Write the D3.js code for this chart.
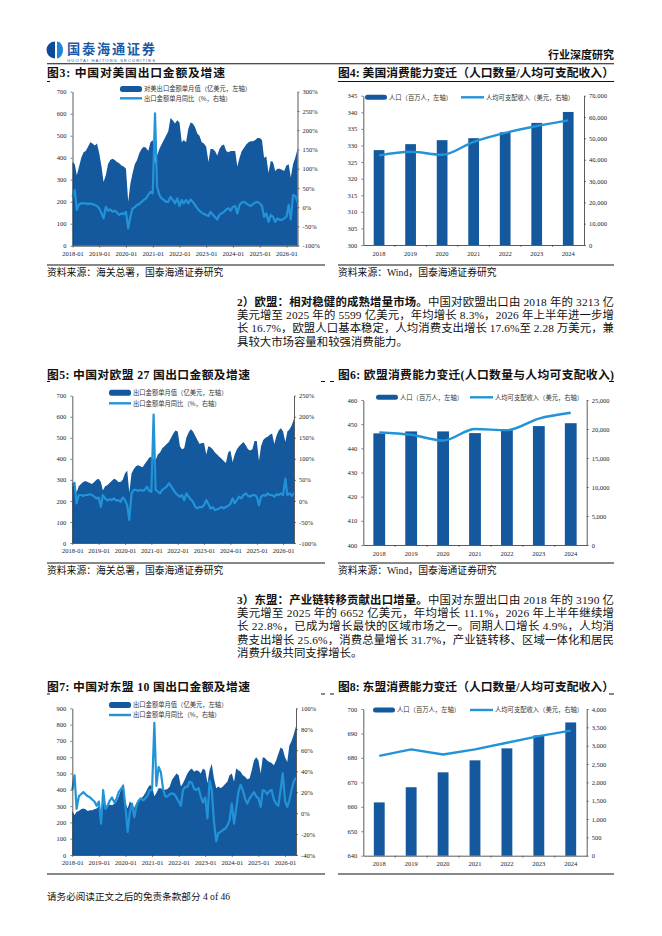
<!DOCTYPE html>
<head>
  <meta charset="utf-8">
  <title>行业深度研究 p4</title>
  <script src="https://d3js.org/d3.v7.min.js"></script>
  <style>
    body { margin: 0; background: #fff; }
    svg { display: block; background: #fff; }
  </style>
</head>

<body>
  <script>
    // ---- categories & tick labels ----
    var months = d3.utcMonths(new Date(Date.UTC(2018, 0, 1)), new Date(Date.UTC(2026, 6, 1)));   // 2018-01 .. 2026-06
    var monthTickLabels = ["2018-01", "2019-01", "2020-01", "2021-01", "2022-01", "2023-01", "2024-01", "2025-01", "2026-01"];
    var years = ["2018", "2019", "2020", "2021", "2022", "2023", "2024"];

    // ---- 图3 中国对美国 (亿美元 / %) ----
    var usMonthlyExport = [
      380,370,320,360,400,425,430,450,470,465,455,465,
      420,360,290,320,370,390,395,390,380,375,365,360,
      350,200,280,330,370,390,420,440,450,445,430,470,
      480,370,410,440,460,480,500,520,580,570,555,570,
      560,470,480,470,530,560,555,540,510,500,470,465,
      450,380,440,440,430,410,440,455,460,430,425,430,
      430,430,360,400,430,445,460,470,475,475,480,490,
      490,480,400,405,330,385,380,340,350,350,345,340,
      365,370,310,370,400,440];
    var usMonthlyYoY = [
      27,45,-7,8,10,10,10,8,10,8,6,3,
      -3,-16,-29,1,-9,-6,-12,-9,-14,-20,-16,-18,
      -12,-55,-25,-3,0,6,8,14,19,23,32,40,
      36,244,53,32,23,19,14,14,27,19,10,23,
      3,19,10,19,10,20,14,6,-3,-9,-14,-18,
      -20,-23,-12,-20,-25,-32,-20,-16,-12,-6,-3,-9,
      1,3,-16,6,12,14,10,6,3,8,12,14,
      10,3,-25,-16,-38,-20,-25,-38,-29,-33,-33,-29,
      -25,6,-32,32,29,14];

    // ---- 图5 中国对欧盟27国 ----
    var euMonthlyExport = [
      270,285,240,270,280,290,295,290,285,280,290,300,
      305,290,250,270,275,285,295,305,300,290,290,300,
      330,345,240,330,350,365,370,365,360,375,390,405,
      410,400,395,420,430,450,460,470,480,500,520,535,
      530,460,445,450,500,525,540,530,510,490,470,475,
      475,420,460,455,445,430,420,410,400,390,380,430,
      440,385,420,445,460,470,480,465,445,440,445,485,
      485,390,460,490,500,505,515,520,470,510,535,545,
      530,480,530,540,560,590];
    var euMonthlyYoY = [
      38,43,-6,14,14,12,14,14,16,14,10,6,
      8,-14,14,6,1,4,2,6,1,2,-2,8,
      2,-10,-45,18,26,26,24,26,24,26,34,24,
      22,205,26,22,18,26,30,34,42,35,27,19,
      14,10,14,2,18,10,4,-2,-14,-18,-14,-15,
      -10,2,-7,-18,-15,-22,-20,-18,-14,-18,-14,-12,
      -7,6,-6,2,10,6,14,18,12,10,14,14,
      10,-10,10,14,12,18,14,14,10,16,14,18,
      14,53,14,18,12,19];

    // ---- 图7 中国对东盟10国 ----
    var aseanMonthlyExport = [
      270,245,265,270,280,285,280,270,275,275,280,285,
      300,270,320,305,300,310,305,315,330,360,400,440,
      320,285,330,310,290,320,340,345,360,380,410,430,
      420,360,380,410,410,400,400,405,420,460,480,500,
      490,420,440,470,500,520,530,510,520,515,500,530,
      520,440,520,560,470,410,420,410,420,435,450,490,
      500,450,530,520,510,490,480,465,470,520,580,600,
      580,500,600,595,580,570,565,550,580,620,660,650,
      600,570,670,700,740,790];
    var aseanMonthlyYoY = [
      22,36,4,16,18,20,18,16,15,13,11,7,
      11,-10,22,4,7,12,15,10,14,20,23,26,
      6,-18,1,9,-4,7,12,14,12,14,17,22,
      22,86,26,44,39,23,16,16,18,19,18,15,
      11,7,22,25,25,30,29,23,22,24,16,10,
      15,-5,31,22,-8,-27,-19,-18,-16,-15,-12,-7,
      9,-10,4,20,27,22,14,9,14,17,20,16,
      14,6,22,21,18,21,22,13,9,7,22,38,
      12,6,12,22,30,34];

    // ---- 图4/6/8 人口(百万人) & 人均可支配收入(美元) ----
    var usPopulation = [328.6, 330.4, 331.6, 332.2, 334.0, 336.8, 340.1];
    var usIncome = [42000, 43700, 42300, 48400, 52600, 55800, 58400];
    var euPopulation = [446.2, 447.0, 447.0, 446.3, 447.8, 449.2, 450.4];
    var euIncome = [19400, 19000, 18000, 20000, 19800, 21800, 22800];
    var aseanPopulation = [661.8, 668.0, 674.1, 679.0, 683.9, 689.2, 694.5];
    var aseanIncome = [2720, 2900, 2760, 2900, 3080, 3260, 3410];

    // ---- axis ticks ----
    var ticks700 = [0, 100, 200, 300, 400, 500, 600, 700];
    var ticks900 = [0, 100, 200, 300, 400, 500, 600, 700, 800, 900];
    var usYoYTicks = [-100, -50, 0, 50, 100, 150, 200, 250, 300];
    var euYoYTicks = [-100, -50, 0, 50, 100, 150, 200, 250];
    var aseanYoYTicks = [-40, -20, 0, 20, 40, 60, 80, 100];
    var usPopTicks = [300, 305, 310, 315, 320, 325, 330, 335, 340, 345];
    var usIncomeTicks = [0, 10000, 20000, 30000, 40000, 50000, 60000, 70000];
    var euPopTicks = [400, 410, 420, 430, 440, 450, 460];
    var euIncomeTicks = [0, 5000, 10000, 15000, 20000, 25000];
    var aseanPopTicks = [640, 650, 660, 670, 680, 690, 700];
    var aseanIncomeTicks = [0, 500, 1000, 1500, 2000, 2500, 3000, 3500, 4000];

    var DARK = "#14589e", LIGHT = "#2393d8", INK = "#111";
    var SERIF = "'Liberation Serif', 'Noto Sans CJK SC', serif";
    var CJK = "'Noto Sans CJK SC', sans-serif";

    var svg = d3.select("body").append("svg")
      .attr("width", 662)
      .attr("height", 936);

    function styleAxis(g) {
      g.attr("font-family", null).attr("font-size", null);
      g.select(".domain").attr("stroke", "#333").attr("stroke-width", 0.8);
      g.selectAll(".tick line").attr("stroke", "#333").attr("stroke-width", 0.6);
      g.selectAll(".tick text")
        .attr("font-family", SERIF)
        .attr("font-size", 6.5)
        .attr("fill", "#222");
    }

    function hline(x1, x2, y, w) {
      svg.append("line")
        .attr("x1", x1).attr("x2", x2).attr("y1", y).attr("y2", y)
        .attr("stroke", "#111").attr("stroke-width", w || 1);
    }

    function label(x, y, txt, size, opts) {
      opts = opts || {};
      return svg.append("text")
        .attr("x", x).attr("y", y)
        .attr("font-family", opts.family || SERIF)
        .attr("font-size", size)
        .attr("font-weight", opts.bold ? "bold" : "normal")
        .attr("text-anchor", opts.anchor || "start")
        .attr("fill", opts.fill || INK)
        .text(txt);
    }

    function title(x, y, txt, width) {
      label(x, y, txt, 11.8, {bold: true})
        .attr("textLength", width)
        .attr("lengthAdjust", "spacing");
    }

    function legendText(x, y, txt) {
      svg.append("text")
        .attr("x", x).attr("y", y)
        .attr("dy", "0.35em")
        .attr("font-family", CJK)
        .attr("font-size", 6.3)
        .attr("fill", "#333")
        .text(txt);
    }

    // monthly area (left axis) + yoy line (right axis)
    function drawTimeChart(c) {
      var g = svg.append("g");
      var x = d3.scaleUtc().domain(d3.extent(months)).range([c.left, c.right]);
      var y = d3.scaleLinear().domain([0, d3.max(c.leftTicks)]).range([c.bottom, c.top]);
      var yr = d3.scaleLinear().domain(d3.extent(c.rightTicks)).range([c.bottom, c.top]);

      g.append("path")
        .datum(c.values)
        .attr("fill", DARK)
        .attr("d", d3.area()
          .x(function(d, i) { return x(months[i]); })
          .y0(y(0))
          .y1(function(d) { return y(d); }));

      g.append("path")
        .datum(c.yoy)
        .attr("fill", "none")
        .attr("stroke", LIGHT)
        .attr("stroke-width", 2.2)
        .attr("stroke-linejoin", "round")
        .attr("d", d3.line()
          .x(function(d, i) { return x(months[i]); })
          .y(function(d) { return yr(d); }));

      g.append("g")
        .attr("transform", "translate(" + c.left + ",0)")
        .call(d3.axisLeft(y).tickValues(c.leftTicks).tickSize(2).tickSizeOuter(0).tickPadding(4).tickFormat(d3.format("d")))
        .call(styleAxis);

      g.append("g")
        .attr("transform", "translate(" + c.right + ",0)")
        .call(d3.axisRight(yr).tickValues(c.rightTicks).tickSize(2).tickSizeOuter(0).tickPadding(3).tickFormat(function(d) { return d + "%"; }))
        .call(styleAxis);

      var parseMonth = d3.utcParse("%Y-%m");
      g.append("g")
        .attr("transform", "translate(0," + c.bottom + ")")
        .call(d3.axisBottom(x).tickValues(monthTickLabels.map(parseMonth)).tickSize(2).tickSizeOuter(0).tickPadding(3.5).tickFormat(d3.utcFormat("%Y-%m")))
        .call(styleAxis);

      // legend
      g.append("rect")
        .attr("x", c.legendX).attr("y", c.legendY1 - 3)
        .attr("width", 22).attr("height", 6).attr("rx", 2.5)
        .attr("fill", DARK);
      legendText(c.legendX + 24, c.legendY1, c.legend1);
      g.append("line")
        .attr("x1", c.legendX).attr("x2", c.legendX + 22)
        .attr("y1", c.legendY2).attr("y2", c.legendY2)
        .attr("stroke", LIGHT).attr("stroke-width", 2.4);
      legendText(c.legendX + 24, c.legendY2, c.legend2);
    }

    // yearly population bars (left) + income line (right)
    function drawComboChart(c) {
      var g = svg.append("g");
      var x = d3.scaleBand().domain(years).range([c.left, c.right]);
      var y = d3.scaleLinear().domain(d3.extent(c.leftTicks)).range([c.bottom, c.top]);
      var yr = d3.scaleLinear().domain(d3.extent(c.rightTicks)).range([c.bottom, c.top]);
      var bw = x.bandwidth() * c.barRatio;

      g.selectAll("rect.bar")
        .data(c.pop)
        .enter().append("rect")
          .attr("class", "bar")
          .attr("x", function(d, i) { return x(years[i]) + (x.bandwidth() - bw) / 2; })
          .attr("width", bw)
          .attr("y", function(d) { return y(d); })
          .attr("height", function(d) { return c.bottom - y(d); })
          .attr("fill", DARK);

      g.append("path")
        .datum(c.income)
        .attr("fill", "none")
        .attr("stroke", LIGHT)
        .attr("stroke-width", 2.4)
        .attr("stroke-linejoin", "round")
        .attr("d", d3.line()
          .curve(c.smooth ? d3.curveMonotoneX : d3.curveLinear)
          .x(function(d, i) { return x(years[i]) + x.bandwidth() / 2; })
          .y(function(d) { return yr(d); }));

      g.append("g")
        .attr("transform", "translate(" + c.left + ",0)")
        .call(d3.axisLeft(y).tickValues(c.leftTicks).tickSize(2).tickSizeOuter(0).tickPadding(4).tickFormat(d3.format("d")))
        .call(styleAxis);

      g.append("g")
        .attr("transform", "translate(" + c.right + ",0)")
        .call(d3.axisRight(yr).tickValues(c.rightTicks).tickSize(2).tickSizeOuter(0).tickPadding(3).tickFormat(d3.format(",")))
        .call(styleAxis);

      var xAxis = g.append("g")
        .attr("transform", "translate(0," + c.bottom + ")")
        .call(d3.axisBottom(x).tickSize(0).tickSizeOuter(0).tickPadding(6))
        .call(styleAxis);
      // small ticks on the category boundaries
      xAxis.selectAll("line.edge")
        .data(years.slice(1))
        .enter().append("line")
          .attr("class", "edge")
          .attr("x1", function(d) { return x(d); })
          .attr("x2", function(d) { return x(d); })
          .attr("y1", 0).attr("y2", 2)
          .attr("stroke", "#333").attr("stroke-width", 0.6);

      // legend
      g.append("rect")
        .attr("x", c.legendX).attr("y", c.legendY - 2.5)
        .attr("width", 22).attr("height", 5).attr("rx", 2.5)
        .attr("fill", DARK);
      legendText(c.legendX + 24, c.legendY, "人口（百万人，左轴）");
      g.append("line")
        .attr("x1", c.lineX).attr("x2", c.lineX + 23)
        .attr("y1", c.legendY).attr("y2", c.legendY)
        .attr("stroke", LIGHT).attr("stroke-width", 2.4);
      legendText(c.lineX + 25, c.legendY, "人均可支配收入（美元，右轴）");
    }

    function drawParagraph(lines, x, y0, lh, width) {
      lines.forEach(function(segs, i) {
        var t = svg.append("text")
          .attr("x", x).attr("y", y0 + i * lh)
          .attr("font-family", SERIF)
          .attr("font-size", 11.4)
          .attr("fill", INK);
        if (i < lines.length - 1) t.attr("textLength", width).attr("lengthAdjust", "spacing");
        segs.forEach(function(s) {
          t.append("tspan").attr("font-weight", s[1] ? "bold" : "normal").text(s[0]);
        });
      });
    }

    // ---- page header ----
    svg.append("path").attr("d", "M55,41.5 A8.5,8.5 0 0 0 55,58.5 Z").attr("fill", "#0d4a9a");
    svg.append("path").attr("d", "M57,41.5 A6,8.5 0 0 1 57,58.5 Z").attr("fill", "#1f86d6");
    label(67, 53.5, "国泰海通证券", 13.2, {family: CJK, bold: true, fill: "#1d5aa8"})
      .attr("textLength", 88).attr("lengthAdjust", "spacing");
    label(67, 62, "GUOTAI HAITONG SECURITIES", 4.2, {family: "'Liberation Sans', sans-serif", fill: "#1d5aa8"})
      .attr("textLength", 88).attr("lengthAdjust", "spacing");
    label(614, 59, "行业深度研究", 11, {family: CJK, bold: true, anchor: "end"});
    hline(47, 614, 63.8, 1.1);

    // ---- row 1 ----
    title(47, 76.5, "图3: 中国对美国出口金额及增速", 178);
    title(338, 76.5, "图4: 美国消费能力变迁（人口数量/人均可支配收入）", 276);
    hline(338, 614, 81.5, 1);
    hline(47, 50, 81.5, 1);

    drawTimeChart({
      left: 72.5, right: 297.5, top: 91.7, bottom: 245.7,
      values: usMonthlyExport, yoy: usMonthlyYoY,
      leftTicks: ticks700, rightTicks: usYoYTicks,
      legendX: 120, legendY1: 89, legendY2: 98.3,
      legend1: "对美出口金额单月值（亿美元，左轴）", legend2: "出口金额单月同比（%，右轴）"
    });
    drawComboChart({
      left: 363.3, right: 584, top: 95.7, bottom: 245,
      pop: usPopulation, income: usIncome, smooth: true, barRatio: 0.34,
      leftTicks: usPopTicks, rightTicks: usIncomeTicks,
      legendX: 365, lineX: 461, legendY: 97.3
    });

    hline(47, 325, 265, 1);
    hline(338, 614, 265, 1);
    label(47, 276, "资料来源：海关总署，国泰海通证券研究", 9.8, {family: CJK});
    label(338, 276, "资料来源：Wind，国泰海通证券研究", 9.8);

    drawParagraph([
      [["2）欧盟：相对稳健的成熟增量市场。", true], ["中国对欧盟出口由 2018 年的 3213 亿", false]],
      [["美元增至 2025 年的 5599 亿美元，年均增长 8.3%，2026 年上半年进一步增", false]],
      [["长 16.7%，欧盟人口基本稳定，人均消费支出增长 17.6%至 2.28 万美元，兼", false]],
      [["具较大市场容量和较强消费能力。", false]]
    ], 237, 305.8, 13.33, 377);

    // ---- row 2 ----
    title(47, 379, "图5: 中国对欧盟 27 国出口金额及增速", 203);
    title(338, 379, "图6: 欧盟消费能力变迁(人口数量与人均可支配收入)", 276);
    hline(47, 50, 381.5, 1); hline(321, 325, 381.5, 1);
    hline(330, 334, 381.5, 1); hline(609, 614, 381.5, 1);

    drawTimeChart({
      left: 72.3, right: 294, top: 395.7, bottom: 543,
      values: euMonthlyExport, yoy: euMonthlyYoY,
      leftTicks: ticks700, rightTicks: euYoYTicks,
      legendX: 109, legendY1: 392.7, legendY2: 403.3,
      legend1: "出口金额单月值（亿美元，左轴）", legend2: "出口金额单月同比（%，右轴）"
    });
    drawComboChart({
      left: 363.3, right: 586.7, top: 400, bottom: 545,
      pop: euPopulation, income: euIncome, smooth: true, barRatio: 0.37,
      leftTicks: euPopTicks, rightTicks: euIncomeTicks,
      legendX: 376, lineX: 470, legendY: 397.3
    });

    hline(47, 325, 563, 1);
    hline(338, 614, 563, 1);
    label(47, 574, "资料来源：海关总署，国泰海通证券研究", 9.8, {family: CJK});
    label(338, 574, "资料来源：Wind，国泰海通证券研究", 9.8);

    drawParagraph([
      [["3）东盟：产业链转移贡献出口增量。", true], ["中国对东盟出口由 2018 年的 3190 亿", false]],
      [["美元增至 2025 年的 6652 亿美元，年均增长 11.1%，2026 年上半年继续增", false]],
      [["长 22.8%，已成为增长最快的区域市场之一。同期人口增长 4.9%，人均消", false]],
      [["费支出增长 25.6%，消费总量增长 31.7%，产业链转移、区域一体化和居民", false]],
      [["消费升级共同支撑增长。", false]]
    ], 237, 603.8, 13.33, 377);

    // ---- row 3 ----
    title(47, 691, "图7: 中国对东盟 10 国出口金额及增速", 203);
    title(338, 691, "图8: 东盟消费能力变迁（人口数量/人均可支配收入）", 276);
    hline(47, 50, 694, 1); hline(321, 325, 694, 1);
    hline(330, 334, 694, 1); hline(609, 614, 694, 1);

    drawTimeChart({
      left: 72.3, right: 296, top: 708.3, bottom: 855,
      values: aseanMonthlyExport, yoy: aseanMonthlyYoY,
      leftTicks: ticks900, rightTicks: aseanYoYTicks,
      legendX: 109, legendY1: 705, legendY2: 715,
      legend1: "出口金额单月值（亿美元，左轴）", legend2: "出口金额单月同比（%，右轴）"
    });
    drawComboChart({
      left: 363.3, right: 586.7, top: 709, bottom: 855.7,
      pop: aseanPopulation, income: aseanIncome, smooth: false, barRatio: 0.34,
      leftTicks: aseanPopTicks, rightTicks: aseanIncomeTicks,
      legendX: 373, lineX: 470, legendY: 710
    });

    hline(47, 325, 874, 1);
    hline(338, 614, 874, 1);

    // ---- footer ----
    label(47, 900, "请务必阅读正文之后的免责条款部分 4 of 46", 9.6);
  </script>
</body>
